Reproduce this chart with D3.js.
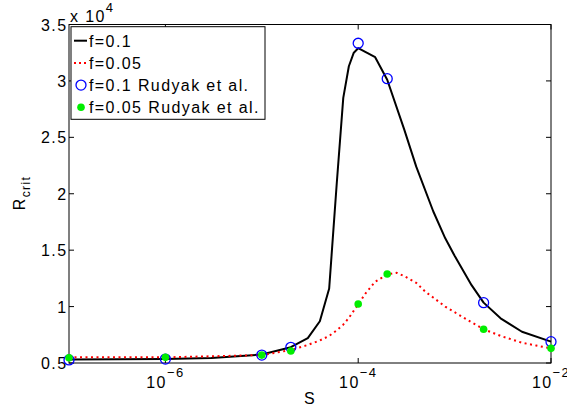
<!DOCTYPE html>
<html><head><meta charset="utf-8">
<script src="https://cdn.jsdelivr.net/npm/d3@7"></script>
<style>
body{margin:0;background:#fff;}
svg{display:block;font-family:"Liberation Sans",Arial,sans-serif;}
text{letter-spacing:1.4px;}
</style></head>
<body><svg id="c" width="567" height="410"></svg>
<script>
// f=0.1 computed curve
const sF01 = [1e-7,1e-6,3e-6,1e-5,2e-5,3e-5,4e-5,5e-5,6e-5,7e-5,8e-5,9e-5,1e-4,1.5e-4,2e-4,3e-4,4e-4,6e-4,8e-4,1e-3,1.5e-3,2e-3,3e-3,5e-3,1e-2];
const rF01 = [0.53,0.535,0.545,0.575,0.64,0.72,0.87,1.16,2.1,2.85,3.13,3.25,3.29,3.21,3.01,2.57,2.24,1.845,1.605,1.45,1.19,1.035,0.896,0.777,0.689];
// f=0.05 computed curve
const sF005 = [1e-7,1e-6,1e-5,2e-5,3e-5,4e-5,5e-5,6e-5,7e-5,8e-5,1e-4,1.2e-4,1.5e-4,2e-4,2.5e-4,3e-4,4e-4,5e-4,6e-4,8e-4,1e-3,1.5e-3,2e-3,3e-3,5e-3,7e-3,1e-2];
const rF005 = [0.55,0.55,0.57,0.615,0.66,0.70,0.74,0.79,0.84,0.90,1.02,1.12,1.22,1.285,1.30,1.27,1.21,1.13,1.08,1.0,0.95,0.86,0.80,0.74,0.68,0.655,0.63];
// Rudyak et al. data
const sRud = [1e-7,1e-6,1e-5,2e-5,1e-4,2e-4,2e-3,1e-2];
const rRud01 = [0.527,0.535,0.57,0.639,3.334,3.02,1.035,0.689];
const rRud005 = [0.547,0.55,0.57,0.606,1.023,1.289,0.799,0.63];
// ticks
const xTicks = [1e-6,1e-4,1e-2];
const xTickExp = ["\u22126","\u22124","\u22122"];
const yTicks = [0.5,1,1.5,2,2.5,3,3.5];
const yTickLabels = ["0.5","1","1.5","2","2.5","3","3.5"];
const legendLabels = ["f=0.1","f=0.05","f=0.1 Rudyak et al.","f=0.05 Rudyak et al."];

const L=69, R=551, T=24.5, B=363;
const svg = d3.select("#c");
const x = d3.scaleLog().domain([1e-7,1e-2]).range([L,R]);
const y = d3.scaleLinear().domain([0.5,3.5]).range([B,T]);

// box
svg.append("rect").attr("x",L).attr("y",T).attr("width",R-L).attr("height",B-T)
  .attr("fill","none").attr("stroke","#000").attr("stroke-width",1);

// ticks
const tk = 5;
xTicks.forEach(v=>{
  svg.append("line").attr("x1",x(v)).attr("x2",x(v)).attr("y1",B).attr("y2",B-tk).attr("stroke","#000");
  svg.append("line").attr("x1",x(v)).attr("x2",x(v)).attr("y1",T).attr("y2",T+tk).attr("stroke","#000");
});
yTicks.forEach(v=>{
  svg.append("line").attr("x1",L).attr("x2",L+tk).attr("y1",y(v)).attr("y2",y(v)).attr("stroke","#000");
  svg.append("line").attr("x1",R).attr("x2",R-tk).attr("y1",y(v)).attr("y2",y(v)).attr("stroke","#000");
});
// tick labels
xTicks.forEach((v,i)=>{
  const t = svg.append("text").attr("x",x(v)).attr("y",388.3).attr("text-anchor","middle").attr("font-size",16);
  t.append("tspan").text("10");
  t.append("tspan").attr("dy",-11).attr("font-size",13).text(xTickExp[i]);
});
yTicks.forEach((v,i)=>{
  svg.append("text").attr("x",67.5).attr("y",y(v)+6).attr("text-anchor","end").attr("font-size",16).text(yTickLabels[i]);
});
// exponent label
const ex = svg.append("text").attr("x",70).attr("y",21.7).attr("font-size",16);
ex.append("tspan").text("x 10");
ex.append("tspan").attr("dy",-10).attr("font-size",13).text("4");

// axis labels
svg.append("text").attr("x",310).attr("y",404).attr("text-anchor","middle").attr("font-size",16).text("S");
const yl = svg.append("text").attr("transform","translate(25,193) rotate(-90)").attr("text-anchor","middle").attr("font-size",16);
yl.append("tspan").text("R");
yl.append("tspan").attr("dy",5).attr("font-size",12).text("crit");

// lines
const line = d3.line().x(d=>x(d[0])).y(d=>y(d[1]));
svg.append("path").attr("d",line(d3.zip(sF01,rF01))).attr("fill","none").attr("stroke","#000").attr("stroke-width",2).attr("stroke-linejoin","round");
svg.append("path").attr("d",line(d3.zip(sF005,rF005))).attr("fill","none").attr("stroke","#ff0000").attr("stroke-width",2).attr("stroke-dasharray","2,3.5");

// markers
svg.selectAll("circle.b").data(d3.zip(sRud,rRud01)).enter().append("circle").attr("class","b")
  .attr("cx",d=>x(d[0])).attr("cy",d=>y(d[1])).attr("r",5).attr("fill","none").attr("stroke","#0000ff").attr("stroke-width",1.3);
svg.selectAll("circle.g").data(d3.zip(sRud,rRud005)).enter().append("circle").attr("class","g")
  .attr("cx",d=>x(d[0])).attr("cy",d=>y(d[1])).attr("r",3.8).attr("fill","#00ee00");

// legend
const lg = svg.append("g");
lg.append("rect").attr("x",71).attr("y",26.7).attr("width",194).attr("height",92.6).attr("fill","#fff").attr("stroke","#000").attr("stroke-width",1);
const ly = [40.7,62.9,85.1,107.3];
lg.append("line").attr("x1",74).attr("x2",87).attr("y1",ly[0]).attr("y2",ly[0]).attr("stroke","#000").attr("stroke-width",2);
lg.append("line").attr("x1",74).attr("x2",87).attr("y1",ly[1]).attr("y2",ly[1]).attr("stroke","#ff0000").attr("stroke-width",2).attr("stroke-dasharray","2,3");
lg.append("circle").attr("cx",81).attr("cy",ly[2]).attr("r",5).attr("fill","none").attr("stroke","#0000ff").attr("stroke-width",1.3);
lg.append("circle").attr("cx",81).attr("cy",ly[3]).attr("r",3.8).attr("fill","#00ee00");
legendLabels.forEach((s,i)=>{
  lg.append("text").attr("x",89).attr("y",ly[i]+5.8).attr("font-size",16).text(s);
});
</script></body></html>
